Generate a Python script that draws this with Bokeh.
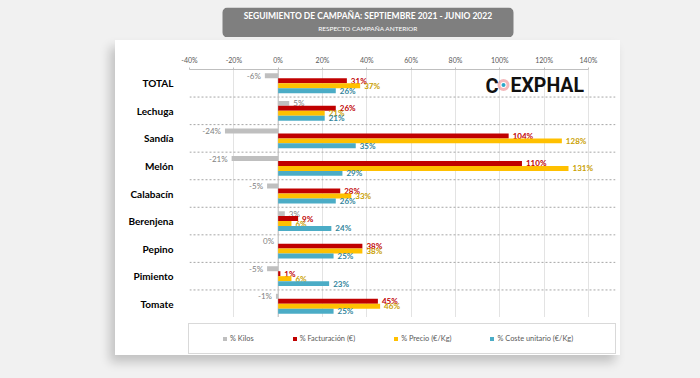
from bokeh.plotting import figure
from bokeh.models import (ColumnDataSource, FactorRange, Range1d, FixedTicker, Span, Label,
                          Legend, LegendItem, BoxAnnotation, GlobalInlineStyleSheet)
from bokeh.layouts import column
from bokeh.transform import dodge
from bokeh.core.properties import value
from bokeh.embed import file_html
from bokeh.resources import INLINE

# ---------------- data ----------------
categories = ["TOTAL", "Lechuga", "Sandía", "Melón", "Calabacín",
              "Berenjena", "Pepino", "Pimiento", "Tomate"]
kilos = [-6, 5, -24, -21, -5, 3, 0, -5, -1]
facturacion = [31, 26, 104, 110, 28, 9, 38, 1, 45]
precio = [37, 21, 128, 131, 33, 6, 38, 6, 46]
coste = [26, 21, 35, 29, 26, 24, 25, 23, 25]
series_names = ["% Kilos", "% Facturación (€)", "% Precio (€/Kg)", "% Coste unitario (€/Kg)"]
x_ticks = [-40, -20, 0, 20, 40, 60, 80, 100, 120, 140]
x_tick_labels = ["-40%", "-20%", "0%", "20%", "40%", "60%", "80%", "100%", "120%", "140%"]
title_text = "SEGUIMIENTO DE CAMPAÑA: SEPTIEMBRE 2021 - JUNIO 2022"
subtitle_text = "RESPECTO CAMPAÑA ANTERIOR"

# ---------------- style ----------------
FONT = "Lato"
bar_colors = ["#bfbfbf", "#c00000", "#ffc000", "#4bacc6"]
label_colors = ["#7f7f7f", "#c00000", "#c9a000", "#31849b"]
label_styles = ["normal", "bold", "bold", "bold"]
bar_offsets = [0.27, 0.09, -0.09, -0.27]
BAR_H = 0.18
CARD_W = 505
MB_L, MB_R = 74, 5

# ---------------- title strip (frame aligned with the card) ----------------
t = figure(width=CARD_W, height=30, x_range=Range1d(0, 1), y_range=Range1d(0, 1),
           x_axis_type=None, y_axis_type=None, output_backend="svg", toolbar_location=None,
           min_border_left=MB_L, min_border_right=MB_R, min_border_top=0, min_border_bottom=0,
           background_fill_color=None, border_fill_color=None, outline_line_color=None)
t.grid.visible = False
t.add_layout(BoxAnnotation(left=33, right=324, bottom=0, top=30,
                           left_units="screen", right_units="screen",
                           top_units="screen", bottom_units="screen",
                           fill_color="#7f7f7f", fill_alpha=1, line_color=None,
                           border_radius=5, level="underlay"))
t.add_layout(Label(x=178.5, y=21.5, x_units="screen", y_units="screen", text=title_text,
                   text_align="center", text_baseline="middle", text_color="white",
                   text_font=FONT, text_font_size="8.5px", text_font_style="bold"))
t.add_layout(Label(x=178.5, y=9.5, x_units="screen", y_units="screen", text=subtitle_text,
                   text_align="center", text_baseline="middle", text_color="white",
                   text_font=FONT, text_font_size="6.5px"))
t.margin = (7, 0, 0, 115)

# ---------------- main chart ----------------
p = figure(width=CARD_W, height=277,
           y_range=FactorRange(factors=categories[::-1]),
           x_range=Range1d(-40, 152.2),
           x_axis_location="above", output_backend="svg", toolbar_location=None,
           min_border_left=MB_L, min_border_right=MB_R, min_border_top=29, min_border_bottom=0,
           background_fill_color="white", border_fill_color="white", outline_line_color=None)

xa = p.xaxis[0]
xa.ticker = FixedTicker(ticks=x_ticks)
xa.major_label_overrides = dict(zip(x_ticks, x_tick_labels))
xa.bounds = (-40, 140)
xa.axis_line_color = "#bfbfbf"
xa.major_tick_line_color = "#bfbfbf"
xa.major_tick_out = 2
xa.major_tick_in = 0
xa.minor_tick_line_color = None
xa.major_label_standoff = 4
xa.major_label_text_font = FONT
xa.major_label_text_font_size = "7px"
xa.major_label_text_color = "#595959"

ya = p.yaxis[0]
ya.axis_line_color = None
ya.major_tick_line_color = None
ya.minor_tick_line_color = None
ya.major_label_standoff = 10
ya.major_label_text_font = FONT
ya.major_label_text_font_size = "10px"
ya.major_label_text_font_style = "bold"
ya.major_label_text_color = "#000000"

p.xgrid.grid_line_color = "#e3e3e3"
p.xgrid.bounds = (-40, 140)
p.ygrid.grid_line_color = None

# category separators (dotted)
for k in range(len(categories)):
    p.add_layout(Span(location=k, dimension="width", line_color="#a6a6a6",
                      line_dash="2 2", line_width=1, level="underlay"))
p.add_layout(Span(location=0, dimension="height", line_color="#bfbfbf",
                  line_width=1, level="underlay"))

series = [kilos, facturacion, precio, coste]
sources = []
for vals, bc, lc, ls, off in zip(series, bar_colors, label_colors, label_styles, bar_offsets):
    src = ColumnDataSource(dict(
        cat=categories, v=vals,
        txt=[f"{v}%" for v in vals],
        align=["left" if v > 0 else "right" for v in vals],
        xo=[4 if v > 0 else -4 for v in vals],
    ))
    sources.append(src)
    p.hbar(y=dodge("cat", off, range=p.y_range), right="v", left=0, height=BAR_H,
           source=src, fill_color=bc, line_color=None)
    p.text(x="v", y=dodge("cat", off, range=p.y_range), text="txt", source=src,
           text_align="align", x_offset="xo", text_baseline="middle",
           text_font=value(FONT), text_font_size="8px", text_font_style=ls, text_color=lc)

# logo
p.add_layout(Label(x=296, y=232, x_units="screen", y_units="screen", text="C",
                   text_font="Roboto", text_font_size="20px", text_font_style="bold",
                   text_color="#111111", text_baseline="alphabetic"))
p.add_layout(BoxAnnotation(left=309.5, right=318.5, bottom=228, top=237,
                           left_units="screen", right_units="screen",
                           top_units="screen", bottom_units="screen",
                           fill_color="white", fill_alpha=1, line_color="#d7141f",
                           line_width=3, border_radius=5))
p.add_layout(BoxAnnotation(left=312, right=316, bottom=230.5, top=234.5,
                           left_units="screen", right_units="screen",
                           top_units="screen", bottom_units="screen",
                           fill_color="#2aa7c9", fill_alpha=1, line_color=None,
                           border_radius=2))
p.add_layout(Label(x=321, y=232, x_units="screen", y_units="screen", text="EXPHAL",
                   text_font="Roboto", text_font_size="19.5px", text_font_style="bold",
                   text_color="#111111", text_baseline="alphabetic"))

# ---------------- legend strip ----------------
lf = figure(width=CARD_W, height=38, x_range=Range1d(1000, 1001), y_range=Range1d(1000, 1001),
            x_axis_type=None, y_axis_type=None, output_backend="svg", toolbar_location=None,
            min_border_left=MB_L, min_border_right=MB_R, min_border_top=0, min_border_bottom=0,
            background_fill_color=None, border_fill_color=None, outline_line_color=None)
lf.grid.visible = False
LB = "linear-gradient(#d9d9d9,#d9d9d9)"
lf.styles = {"background": (f"{LB} 73px 6px/428px 1px no-repeat, "
                            f"{LB} 73px 36px/428px 1px no-repeat, "
                            f"{LB} 73px 6px/1px 31px no-repeat, "
                            f"{LB} 500px 6px/1px 31px no-repeat, #ffffff")}
# swatch renderers share the series data (drawn outside this strip's view)
leg_renderers = [lf.hbar(y="v", right="v", left=0, height=BAR_H, source=s,
                         fill_color=c, line_color=None)
                 for s, c in zip(sources, bar_colors)]
items = [LegendItem(label=n, renderers=[r]) for n, r in zip(series_names, leg_renderers)]
legend = Legend(items=items, orientation="horizontal", location=(33, 12),
                padding=0, margin=0, spacing=38, glyph_width=5, glyph_height=5,
                label_standoff=3, label_height=8, label_text_font=FONT,
                label_text_font_size="7.4px", label_text_color="#595959",
                border_line_color=None, background_fill_alpha=0)
lf.add_layout(legend, "center")

card = column(p, lf, margin=(3, 0, 0, 115),
              styles={"box-shadow": "-5px 7px 10px rgba(0,0,0,0.20)", "background-color": "#ffffff"})

layout = column(t, card, stylesheets=[GlobalInlineStyleSheet(css="body{background-color:#f1f1f1;}")])

open("out.html", "w").write(file_html(layout, INLINE))
